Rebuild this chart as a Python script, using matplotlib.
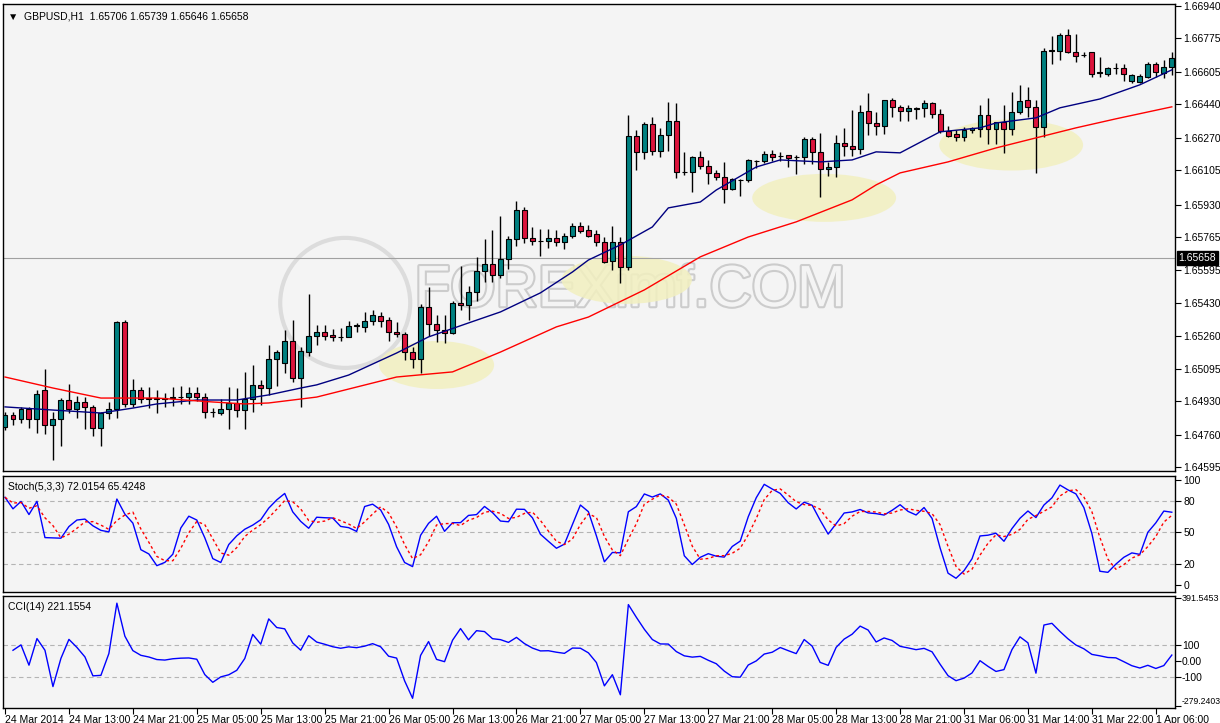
import numpy as np
import pandas as pd
import matplotlib
matplotlib.use("Agg")
import matplotlib.pyplot as plt
from matplotlib.patches import Ellipse
import matplotlib.patheffects as pe

# hourly GBPUSD bars
opens = [1.64799, 1.64860, 1.64840, 1.64890, 1.64840, 1.64987, 1.64809, 1.64840, 1.64936, 1.64890,
         1.64926, 1.64901, 1.64794, 1.64870, 1.64890, 1.65333, 1.64916, 1.64987, 1.64941, 1.64944,
         1.64941, 1.64946, 1.64951, 1.64951, 1.64972, 1.64951, 1.64875, 1.64870, 1.64890, 1.64921,
         1.64885, 1.64941, 1.65013, 1.64997, 1.65145, 1.65124, 1.65236, 1.65048, 1.65180, 1.65262,
         1.65282, 1.65267, 1.65257, 1.65257, 1.65313, 1.65308, 1.65338, 1.65364, 1.65343, 1.65282,
         1.65272, 1.65180, 1.65145, 1.65409, 1.65323, 1.65292, 1.65277, 1.65430, 1.65419, 1.65486,
         1.65592, 1.65628, 1.65572, 1.65653, 1.65755, 1.65903, 1.65760, 1.65745, 1.65745, 1.65760,
         1.65740, 1.65770, 1.65821, 1.65801, 1.65781, 1.65740, 1.65643, 1.65740, 1.65613, 1.66279,
         1.66198, 1.66340, 1.66203, 1.66284, 1.66355, 1.66096, 1.66096, 1.66172, 1.66127, 1.66091,
         1.66071, 1.66010, 1.66055, 1.66055, 1.66152, 1.66152, 1.66188, 1.66177, 1.66183, 1.66172,
         1.66172, 1.66264, 1.66198, 1.66111, 1.66121, 1.66244, 1.66228, 1.66213, 1.66406, 1.66345,
         1.66330, 1.66462, 1.66427, 1.66406, 1.66417, 1.66422, 1.66447, 1.66391, 1.66305, 1.66289,
         1.66274, 1.66310, 1.66315, 1.66386, 1.66315, 1.66350, 1.66315, 1.66401, 1.66462, 1.66427,
         1.66325, 1.66712, 1.66712, 1.66793, 1.66706, 1.66691, 1.66706, 1.66600, 1.66595, 1.66625,
         1.66625, 1.66559, 1.66554, 1.66579, 1.66645, 1.66600, 1.66630]
closes = [1.64860, 1.64840, 1.64890, 1.64840, 1.64967, 1.64809, 1.64840, 1.64936, 1.64890, 1.64926,
          1.64901, 1.64794, 1.64870, 1.64890, 1.65333, 1.64916, 1.64987, 1.64941, 1.64944, 1.64941,
          1.64946, 1.64951, 1.64953, 1.64972, 1.64951, 1.64875, 1.64873, 1.64890, 1.64921, 1.64885,
          1.64941, 1.65013, 1.64997, 1.65145, 1.65180, 1.65236, 1.65048, 1.65185, 1.65262, 1.65282,
          1.65262, 1.65257, 1.65259, 1.65313, 1.65315, 1.65338, 1.65369, 1.65338, 1.65282, 1.65272,
          1.65180, 1.65145, 1.65409, 1.65323, 1.65292, 1.65277, 1.65430, 1.65419, 1.65486, 1.65592,
          1.65628, 1.65572, 1.65653, 1.65755, 1.65903, 1.65760, 1.65745, 1.65747, 1.65760, 1.65740,
          1.65770, 1.65821, 1.65796, 1.65770, 1.65740, 1.65638, 1.65740, 1.65613, 1.66279, 1.66198,
          1.66340, 1.66203, 1.66284, 1.66355, 1.66096, 1.66098, 1.66172, 1.66127, 1.66091, 1.66071,
          1.66010, 1.66060, 1.66057, 1.66157, 1.66154, 1.66188, 1.66172, 1.66179, 1.66167, 1.66174,
          1.66264, 1.66198, 1.66111, 1.66121, 1.66244, 1.66228, 1.66213, 1.66401, 1.66345, 1.66330,
          1.66462, 1.66427, 1.66406, 1.66422, 1.66419, 1.66447, 1.66391, 1.66305, 1.66279, 1.66274,
          1.66310, 1.66320, 1.66386, 1.66315, 1.66350, 1.66315, 1.66401, 1.66457, 1.66427, 1.66325,
          1.66712, 1.66714, 1.66793, 1.66706, 1.66686, 1.66693, 1.66595, 1.66602, 1.66625, 1.66627,
          1.66595, 1.66589, 1.66584, 1.66645, 1.66605, 1.66630, 1.66676]
highs = [1.64875, 1.64875, 1.64901, 1.64901, 1.64987, 1.65094, 1.64875, 1.64946, 1.65018, 1.64956,
         1.64951, 1.64911, 1.64875, 1.64926, 1.65338, 1.65343, 1.65043, 1.65002, 1.65002, 1.64987,
         1.64972, 1.65002, 1.65007, 1.65002, 1.65002, 1.64972, 1.64895, 1.64941, 1.65002, 1.64997,
         1.65079, 1.65114, 1.65038, 1.65216, 1.65191, 1.65292, 1.65343, 1.65206, 1.65475, 1.65318,
         1.65318, 1.65297, 1.65302, 1.65338, 1.65328, 1.65384, 1.65394, 1.65384, 1.65358, 1.65333,
         1.65282, 1.65206, 1.65425, 1.65511, 1.65369, 1.65369, 1.65440, 1.65618, 1.65516, 1.65664,
         1.65755, 1.65801, 1.65872, 1.65770, 1.65949, 1.65918, 1.65816, 1.65806, 1.65806, 1.65801,
         1.65786, 1.65837, 1.65842, 1.65826, 1.65801, 1.65765, 1.65821, 1.65765, 1.66386, 1.66310,
         1.66350, 1.66376, 1.66320, 1.66452, 1.66447, 1.66198, 1.66177, 1.66203, 1.66157, 1.66106,
         1.66147, 1.66066, 1.66060, 1.66162, 1.66157, 1.66203, 1.66208, 1.66198, 1.66183, 1.66183,
         1.66274, 1.66274, 1.66294, 1.66147, 1.66284, 1.66320, 1.66411, 1.66437, 1.66498, 1.66401,
         1.66462, 1.66472, 1.66437, 1.66437, 1.66427, 1.66462, 1.66452, 1.66417, 1.66330, 1.66310,
         1.66325, 1.66325, 1.66437, 1.66472, 1.66350, 1.66437, 1.66503, 1.66539, 1.66528, 1.66462,
         1.66727, 1.66788, 1.66803, 1.66823, 1.66798, 1.66706, 1.66706, 1.66681, 1.66630, 1.66651,
         1.66645, 1.66595, 1.66595, 1.66656, 1.66656, 1.66666, 1.66706]
lows = [1.64784, 1.64809, 1.64819, 1.64794, 1.64768, 1.64763, 1.64631, 1.64702, 1.64870, 1.64845,
        1.64789, 1.64753, 1.64702, 1.64840, 1.64845, 1.64901, 1.64901, 1.64921, 1.64895, 1.64870,
        1.64901, 1.64906, 1.64916, 1.64916, 1.64931, 1.64845, 1.64850, 1.64860, 1.64789, 1.64850,
        1.64789, 1.64875, 1.64911, 1.64962, 1.65007, 1.65074, 1.65028, 1.64901, 1.65160, 1.65216,
        1.65241, 1.65236, 1.65236, 1.65254, 1.65282, 1.65282, 1.65318, 1.65308, 1.65236, 1.65257,
        1.65140, 1.65099, 1.65074, 1.65262, 1.65231, 1.65226, 1.65272, 1.65394, 1.65343, 1.65440,
        1.65536, 1.65536, 1.65557, 1.65603, 1.65720, 1.65735, 1.65725, 1.65669, 1.65709, 1.65720,
        1.65704, 1.65760, 1.65786, 1.65765, 1.65720, 1.65633, 1.65598, 1.65531, 1.65598, 1.66106,
        1.66162, 1.66183, 1.66172, 1.66203, 1.66066, 1.66081, 1.65994, 1.66111, 1.66035, 1.66055,
        1.65938, 1.66004, 1.65974, 1.66045, 1.66116, 1.66142, 1.66152, 1.66152, 1.66121, 1.66086,
        1.66137, 1.66137, 1.65969, 1.66076, 1.66071, 1.66177, 1.66177, 1.66188, 1.66284, 1.66284,
        1.66289, 1.66376, 1.66355, 1.66355, 1.66366, 1.66376, 1.66371, 1.66294, 1.66274, 1.66254,
        1.66254, 1.66294, 1.66274, 1.66238, 1.66238, 1.66193, 1.66284, 1.66391, 1.66376, 1.66091,
        1.66274, 1.66645, 1.66666, 1.66701, 1.66656, 1.66681, 1.66579, 1.66579, 1.66584, 1.66595,
        1.66559, 1.66549, 1.66549, 1.66574, 1.66579, 1.66574, 1.66589]

# moving averages (bar index, value)
fast_ma_bars = [0, 6, 12, 16, 19, 24, 29, 33, 37, 39, 43, 49, 53, 58, 62, 67, 71, 73, 77, 81,
                83, 87, 89, 94, 97, 102, 106, 109, 112, 117, 122, 124, 129, 132, 137, 142, 146]
fast_ma = [1.64901, 1.64885, 1.64870, 1.64895, 1.64916, 1.64936, 1.64936, 1.64962, 1.64997, 1.65013,
           1.65063, 1.65175, 1.65257, 1.65328, 1.65384, 1.65481, 1.65587, 1.65648, 1.65725, 1.65816,
           1.65913, 1.65943, 1.66004, 1.66121, 1.66157, 1.66147, 1.66157, 1.66198, 1.66193, 1.66300,
           1.66320, 1.66345, 1.66371, 1.66422, 1.66467, 1.66539, 1.66615]
slow_ma_bars = [0, 6, 12, 19, 26, 30, 33, 39, 49, 56, 62, 69, 73, 80, 87, 93, 99, 106, 109, 112,
                118, 124, 129, 134, 139, 146]
slow_ma = [1.65053, 1.64997, 1.64946, 1.64946, 1.64926, 1.64916, 1.64921, 1.64951, 1.65053, 1.65079,
           1.65180, 1.65308, 1.65358, 1.65496, 1.65664, 1.65765, 1.65842, 1.65954, 1.66030, 1.66091,
           1.66147, 1.66218, 1.66269, 1.66320, 1.66366, 1.66427]

price_ticks = [1.66940, 1.66775, 1.66605, 1.66440, 1.66270, 1.66105, 1.65930, 1.65765,
               1.65595, 1.65430, 1.65260, 1.65095, 1.64930, 1.64760, 1.64595]
last_price = 1.65658
time_ticks = list(range(0, 145, 8))
time_labels = ["24 Mar 2014", "24 Mar 13:00", "24 Mar 21:00", "25 Mar 05:00", "25 Mar 13:00",
               "25 Mar 21:00", "26 Mar 05:00", "26 Mar 13:00", "26 Mar 21:00", "27 Mar 05:00",
               "27 Mar 13:00", "27 Mar 21:00", "28 Mar 05:00", "28 Mar 13:00", "28 Mar 21:00",
               "31 Mar 06:00", "31 Mar 14:00", "31 Mar 22:00", "1 Apr 06:00"]
# highlighted zones: (centre bar, centre price, width in bars, height in price)
zones = [(54, 1.65114, 14.4, 0.00244), (77.8, 1.65547, 16.3, 0.00244),
         (102.5, 1.65964, 18.0, 0.00244), (125.9, 1.66233, 18.0, 0.00260)]

df = pd.DataFrame({"o": opens, "h": highs, "l": lows, "c": closes})
x = np.arange(len(df))

# Stochastic(5,3,3)
lo5 = df.l.rolling(5, min_periods=1).min()
hi5 = df.h.rolling(5, min_periods=1).max()
k = 100 * (df.c - lo5).rolling(3, min_periods=1).sum() / (hi5 - lo5).rolling(3, min_periods=1).sum()
d = k.rolling(3, min_periods=1).mean()
# CCI(14)
tp = (df.h + df.l + df.c) / 3
sma = tp.rolling(14, min_periods=2).mean()
mad = tp.rolling(14, min_periods=2).apply(lambda s: np.mean(np.abs(s - s.mean())), raw=True)
cci = (tp - sma) / (0.015 * mad)

BG = "#f4f4f4"
plt.rcParams["font.family"] = ["Liberation Sans", "DejaVu Sans"]
plt.rcParams["font.size"] = 7.5
fig = plt.figure(figsize=(12.2, 7.23), dpi=100, facecolor="white")
W, H = 1220, 723


def panel(top, bottom):
    ax = fig.add_axes([3 / W, 1 - bottom / H, 1172 / W, (bottom - top) / H], facecolor=BG)
    ax.set_xlim(-0.25, 146.4)
    ax.yaxis.tick_right()
    ax.tick_params(axis="y", length=4, pad=2, labelsize=7.5)
    ax.set_xticks([])
    for s in ax.spines.values():
        s.set_linewidth(1)
    return ax


ax = panel(4, 471)
ax.set_ylim(1.64575, 1.66950)
for (cx, cy, w, h) in zones:
    ax.add_patch(Ellipse((cx, cy), w, h, color="#f2f0c0", alpha=0.85, zorder=1, lw=0))
# watermark
ax.text(0.535, 0.385, "FOREXimf.COM", transform=ax.transAxes, ha="center", va="center",
        fontsize=42, color=BG, zorder=0.5,
        path_effects=[pe.withStroke(linewidth=3, foreground="#cccccc")])
ax.add_patch(Ellipse((0.292, 0.36), 130 / 1172, 130 / 467, transform=ax.transAxes,
                     fill=False, ec="#dcdcdc", lw=3, zorder=0.5))
ax.axhline(last_price, color="#a0a0a0", lw=0.8, zorder=1.5)

up = df.c >= df.o
col = np.where(up, "#008080", "#dc143c")
ax.vlines(x, df.l, df.h, color="black", lw=1, zorder=2)
body = np.maximum((df.c - df.o).abs(), 0.00002)
ax.bar(x, body, bottom=np.minimum(df.o, df.c), width=0.62, color=col,
       edgecolor="black", linewidth=0.8, zorder=3)
ax.plot(fast_ma_bars, fast_ma, color="#000080", lw=1, zorder=4)
ax.plot(slow_ma_bars, slow_ma, color="red", lw=1, zorder=4)
ax.set_yticks(price_ticks)
ax.set_yticklabels([f"{v:.5f}" for v in price_ticks])
ax.text(1.003, last_price, f"{last_price:.5f}", transform=ax.get_yaxis_transform(),
        va="center", ha="left", color="white", fontsize=7.5, zorder=10,
        bbox=dict(boxstyle="square,pad=0.15", fc="black", ec="black"))
ax.text(0.004, 0.985, "\u25bc  GBPUSD,H1  1.65706 1.65739 1.65646 1.65658",
        transform=ax.transAxes, va="top", ha="left", fontsize=7.5)

ax2 = panel(476, 592)
ax2.set_ylim(-6.7, 103.8)
for lvl in (80, 50, 20):
    ax2.axhline(lvl, color="#b4b4b4", lw=0.8, ls=(0, (4, 3)))
ax2.plot(x, k, color="blue", lw=1)
ax2.plot(x, d, color="red", lw=1, ls=(0, (2, 2)))
ax2.set_yticks([100, 80, 50, 20, 0])
ax2.text(0.004, 0.95, "Stoch(5,3,3) 72.0154 65.4248", transform=ax2.transAxes,
         va="top", ha="left", fontsize=7.5)

ax3 = panel(596, 708)
ax3.set_ylim(-290, 402)
for lvl in (100, -100):
    ax3.axhline(lvl, color="#b4b4b4", lw=0.8, ls=(0, (4, 3)))
ax3.plot(x, cci, color="blue", lw=1)
ax3.set_yticks([391.5453, 100, 0, -100, -279.2403])
ax3.set_yticklabels(["391.5453", "100", "0.00", "-100", "-279.2403"])
ax3.tick_params(axis="y", pad=1)
for lab in ax3.get_yticklabels():
    if lab.get_text() == "391.5453":
        lab.set_fontsize(6.5)
    elif lab.get_text() == "-279.2403":
        lab.set_fontsize(6.2)
        lab.set_verticalalignment("bottom")
ax3.text(0.004, 0.95, "CCI(14) 221.1554", transform=ax3.transAxes,
         va="top", ha="left", fontsize=7.5)
ax3.set_xticks(time_ticks)
ax3.set_xticklabels(time_labels, ha="left", fontsize=7.5)
ax3.tick_params(axis="x", length=4, pad=1)

fig.savefig("out.png", dpi=100, facecolor="white")
